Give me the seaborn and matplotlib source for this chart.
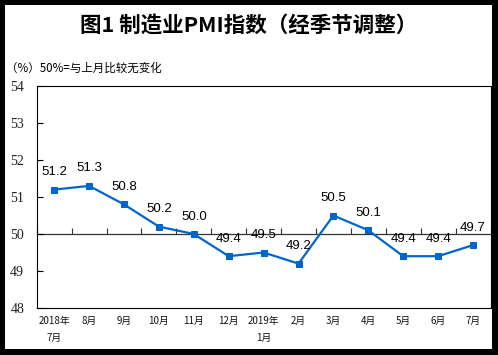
import numpy as np
import pandas as pd
import matplotlib
matplotlib.use("Agg")
import matplotlib.pyplot as plt
from matplotlib.patches import Rectangle
import seaborn as sns

# ---- data ----
months = ["2018年\n7月", "8月", "9月", "10月", "11月", "12月", "2019年\n1月",
          "2月", "3月", "4月", "5月", "6月", "7月"]
pmi = [51.2, 51.3, 50.8, 50.2, 50.0, 49.4, 49.5, 49.2, 50.5, 50.1, 49.4, 49.4, 49.7]
yticks = [48, 49, 50, 51, 52, 53, 54]
title = "图1 制造业PMI指数（经季节调整）"
subtitle = "（%）50%=与上月比较无变化"

sns.set_style("white")
plt.rcParams["font.family"] = ["Noto Sans CJK SC", "DejaVu Sans"]

df = pd.DataFrame({"pos": np.arange(len(months)), "month": months, "pmi": pmi})

W, H = 498, 355
fig = plt.figure(figsize=(W / 100, H / 100), dpi=100, facecolor="black")
fig.patches.append(Rectangle((5 / W, 6 / H), 487 / W, 344 / H, transform=fig.transFigure,
                             facecolor="white", edgecolor="none", zorder=-5))

ax = fig.add_axes([36.7 / W, (H - 308) / H, (490.5 - 36.7) / W, (308 - 86) / H])
ax.set_zorder(2)
ax.set_facecolor("white")

line_color = "#0066CC"
sns.lineplot(data=df, x="pos", y="pmi", ax=ax, color=line_color, linewidth=1.6,
             marker="s", markersize=4.8, markeredgecolor=line_color, zorder=3)

ax.set_xlim(-0.5, len(months) - 0.5)
ax.set_ylim(yticks[0], yticks[-1])
ax.set_xlabel("")
ax.set_ylabel("")

# y axis
ax.set_yticks(yticks)
ax.set_yticklabels([str(v) for v in yticks], family="Liberation Serif", fontsize=10,
                   color="#222222")
ax.tick_params(axis="y", direction="in", length=4, width=0.8, color="black", pad=9, left=True)

# x labels at the bottom without tick marks
ax.set_xticks(df["pos"])
ax.set_xticklabels(months, fontsize=7, linespacing=1.8, color="#111111")
ax.tick_params(axis="x", length=0, pad=6, bottom=True)

for s in ax.spines.values():
    s.set_visible(True)
    s.set_color("black")
    s.set_linewidth(0.8)

# reference line at 50 with ticks between categories
sec = ax.secondary_xaxis((50 - yticks[0]) / (yticks[-1] - yticks[0]))
sec.set_xticks(np.arange(len(months) + 1) - 0.5)
sec.set_xticklabels([])
sec.tick_params(axis="x", direction="in", length=4, width=0.8, color="#333333")
sec.spines["bottom"].set_color("#333333")
sec.spines["bottom"].set_linewidth(0.9)

# data labels
for x, v in zip(df["pos"], df["pmi"]):
    ax.annotate(f"{v:.1f}", (x, v), xytext=(0, 17.5), textcoords="offset pixels",
                ha="center", va="center", family="Liberation Sans", fontsize=9.5,
                color="black", zorder=4)

fig.text(249 / W, (H - 25) / H, title, ha="center", va="center", fontsize=15.5,
         fontweight="bold", color="black")
fig.text(6 / W, (H - 68) / H, subtitle, ha="left", va="center", fontsize=8.3,
         color="black")

fig.savefig("out.png", dpi=100, facecolor=fig.get_facecolor())
